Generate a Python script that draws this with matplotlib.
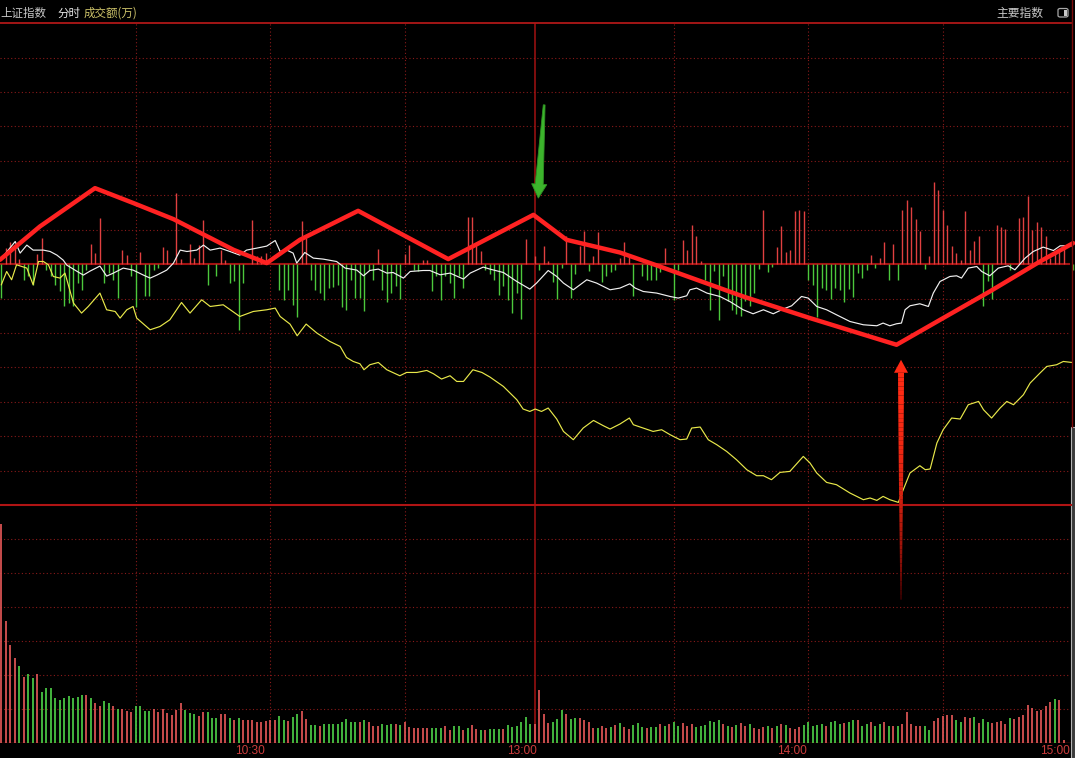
import matplotlib
matplotlib.use("Agg")
import matplotlib.pyplot as plt
from matplotlib.patches import Polygon, Rectangle, FancyBboxPatch
from matplotlib.transforms import IdentityTransform
import numpy as np

plt.rcParams['font.family'] = ['Noto Sans CJK SC', 'DejaVu Sans']

# ------------------------------------------------------------------ data
# minute index (0 = 09:30, 120 = 13:00, 240 = 15:00); values in display units
# (one grid step of the price panel = 34.4 units, zero line = previous close)
white_t = [0.1, 3.1, 4.2, 5.7, 7.1, 9.4, 10.9, 12.4, 13.8, 14.6, 16.8, 18.3, 19.8, 22.0, 23.5, 25.0,
           27.2, 29.4, 31.7, 33.2, 34.7, 36.9, 38.4, 39.9, 41.4, 43.6, 45.1, 46.6, 48.8, 51.0, 53.2,
           54.7, 57.0, 59.2, 61.1, 62.2, 63.7, 65.1, 65.9, 67.7, 69.6, 71.8, 74.8, 76.7, 79.3, 80.8,
           82.2, 84.1, 86.0, 87.4, 89.7, 91.2, 94.1, 95.6, 97.9, 100.1, 103.1, 104.6, 107.5, 109.0,
           112.0, 115.0, 117.9, 119.4, 122.0, 123.9, 125.4, 127.6, 130.6, 132.8, 135.8, 138.0, 140.2,
           141.4, 143.2, 146.2, 149.2, 151.0, 152.9, 153.6, 155.1, 157.4, 160.3, 162.5, 165.5, 167.7,
           170.0, 172.2, 174.4, 176.3, 178.5, 180.0, 181.9, 184.1, 186.3, 189.3, 192.3, 195.3, 196.7,
           198.2, 199.7, 200.8, 201.6, 202.7, 204.9, 206.8, 207.9, 209.4, 211.6, 213.1, 214.2, 215.7,
           217.6, 218.7, 220.5, 222.4, 224.6, 226.1, 228.4, 230.2, 232.4, 234.7, 236.2, 238.8]
white_v = [6, 22.6, 11, 19, 14, 14, 12.6, 9, 4, -1, -7, -11, -7, -2, -12, -9,
           -4, -6, -11, -14, -11, -6, 1, 14, 12.6, 14, 19, 14, 16, 12.6, 9,
           14, 16, 18, 23.6, 12.6, 14, 11, 1, 11.6, 6, 5, 2.6, -4, -6, -11.7,
           -6.4, -5, -9, -8.4, -14, -7.4, -6.4, -6.4, -10.7, -9, -15, -9, -3, -5,
           -8.4, -17.4, -25, -19, -6.4, -12.4, -19, -25.7, -15.7, -19, -25.7, -24, -19.7,
           -24, -27.4, -29, -32.4, -34, -31.7, -25.7, -24, -29, -32.4, -37.4, -45.7, -49.7,
           -45.7, -49.7, -45, -41.7, -32.4, -34, -42.4, -45.7, -50.7, -57.4, -60.7, -61.7, -59,
           -61.7, -59.7, -59, -45.7, -41.7, -39.7, -42.4, -29, -17.4, -12.4, -11.7, -14, -4,
           -2.4, -7.4, -11.7, -4, -1.7, -5.7, 6, 12.6, 17, 13.6, 18.3, 18.3]

yellow_t = [0, 1.2, 2.3, 3.4, 4.6, 5.7, 7.1, 8.3, 9.4, 10.5, 11.6, 13.1, 14.2, 16.1, 17.9, 19.4,
            22.0, 23.5, 25.4, 26.5, 28.0, 29.4, 30.2, 33.2, 35.4, 37.6, 40.2, 42.1, 44.7, 46.6, 49.5,
            53.2, 56.2, 59.2, 61.1, 62.2, 64.4, 66.0, 68.0, 70.4, 73.3, 75.6, 77.0, 78.5, 80.0, 80.9,
            82.2, 84.1, 86.0, 88.9, 90.4, 92.7, 94.9, 96.4, 98.2, 100.1, 101.6, 103.1, 105.2, 107.2,
            109.0, 112.0, 115.0, 116.4, 117.9, 119.1, 120.5, 122.0, 123.9, 125.4, 127.6, 129.8, 132.1,
            134.3, 135.8, 138.0, 140.1, 141.0, 143.2, 145.4, 147.3, 149.2, 151.4, 152.9, 154.0, 155.9,
            157.7, 159.6, 161.8, 164.0, 166.3, 168.5, 170.0, 171.8, 173.7, 175.9, 178.9, 180.4, 181.9,
            184.1, 186.3, 189.3, 190.8, 192.3, 193.8, 195.3, 196.7, 198.2, 200.1, 201.2, 202.7, 204.9,
            206.1, 207.2, 208.7, 210.1, 212.0, 213.9, 215.7, 218.0, 219.1, 220.9, 222.8, 224.3, 225.8,
            228.0, 229.5, 231.7, 233.2, 235.4, 236.9, 238.8]
yellow_v = [-20.7, -7.4, -15.7, -0.7, -2.4, -4, -20.7, 2.6, 2.6, -0.7, -12.4, -14, -9, -39, -49, -42.4,
            -29, -45.7, -47.4, -54, -45.7, -42.4, -54, -65.7, -62.4, -55.7, -38.4, -49, -35.7, -42.4, -40.7,
            -52.4, -47.4, -45.7, -44, -52.4, -60, -71.7, -60, -69, -77.4, -82.4, -93.4, -97.4, -99.7, -105.7,
            -100.7, -98.4, -105.7, -111.7, -108.4, -108.4, -106.4, -109.7, -115, -111.7, -117.4, -117.4, -105.7, -108.4,
            -113, -122.4, -135.7, -145, -147.4, -145, -147.4, -144, -155, -167.4, -175.7, -164, -156.4,
            -161.7, -165, -160, -154, -160.7, -164, -167.4, -165.7, -170.7, -175.7, -175, -164, -163,
            -175.7, -180.7, -187.4, -195.7, -205.7, -211.7, -211.7, -215.7, -208.4, -207.4, -192.4, -199, -209,
            -218.4, -220.7, -229, -232.4, -235.7, -234, -236.4, -232.4, -235.7, -238.4, -225.7, -209, -201.7,
            -205.7, -205, -179, -165.7, -154, -155, -140.7, -137.4, -145.7, -154, -144, -137.4, -140.7,
            -130.7, -119, -109, -102.4, -100.7, -97.4, -98.4]

# red (+) / green (-) bars around the zero line of the price panel
flow_t = [0, 1, 2, 3, 4, 5, 6, 7, 8, 9, 10, 11, 12, 13, 14, 15, 16, 17, 18, 19, 20, 21, 22, 23, 24,
          25, 26, 27, 28, 29, 30, 31, 32, 33, 34, 35, 36, 37, 39, 40, 42, 43, 44, 45, 46, 48, 49, 50,
          51, 52, 53, 54, 56, 57, 58, 59, 62, 63, 64, 65, 66, 67, 68, 69, 70, 71, 72, 73, 74, 75, 76,
          77, 78, 79, 80, 81, 82, 83, 84, 85, 86, 87, 88, 89, 90, 91, 92, 93, 94, 95, 96, 97, 98, 99,
          100, 101, 102, 103, 104, 105, 106, 107, 108, 109, 110, 111, 112, 113, 114, 115, 116, 117,
          119, 120, 121, 122, 123, 124, 125, 126, 127, 128, 129, 130, 131, 132, 133, 134, 135, 136,
          137, 138, 139, 140, 141, 143, 144, 145, 146, 147, 148, 150, 151, 152, 153, 154, 155, 156,
          157, 158, 159, 160, 161, 162, 163, 164, 165, 166, 167, 168, 169, 170, 171, 172, 173, 174,
          175, 176, 177, 178, 179, 180, 181, 182, 183, 184, 185, 186, 187, 188, 189, 190, 191, 192,
          193, 194, 195, 196, 197, 198, 199, 200, 201, 202, 203, 204, 205, 206, 207, 208, 209, 210,
          211, 212, 213, 214, 215, 216, 217, 218, 219, 220, 221, 222, 223, 224, 225, 227, 228, 229,
          230, 231, 232, 233, 234, 235, 236, 237, 239]
flow_v = [-34, 16, 21.7, 17.7, 5, -15.7, -12.3, -20.7, 10.3, 26, -5.7, -12.3, -20.7, -27.3, -42.3, -39,
          -42.3, -19, -25.7, -5.7, 20.3, 11, 46, -19, -9, -15.7, -34, 13.7, 9.3, -12.3, -43.3, 11.7,
          -32.3, -32.3, -5.7, -4, 17, 14.3, 71, 5, 20.3, 6, 19.3, 43.7, -20.7, -12.3, 14.3, 4.3, -19,
          -17.3, -66.3, -19, 43.7, 7.7, 8.3, 11, -25.7, -35.7, -25.7, -40.7, -53, 42.7, 26, -15.7,
          -25.7, -29, -36.3, -24, -23, -20.7, -43.3, -46.3, -15.7, -34, -34, -47.3, -5.7, -15.7, 15,
          -25.7, -38.3, -29, -21.7, -35, 10.3, 19.3, -5.7, -7.3, 4.3, 4.3, -27.3, -12.3, -36.3, -11.7,
          -19, -34, -12.3, -24, 47, 47, 21, 12.7, -5.7, -9.7, -15.7, -30.7, -22.3, -35.7, -49, -29,
          -55, 25, 8.3, -5.7, 18.3, 2.7, -18.3, -35, -4, 28.3, -34, -9.7, 17.7, 32.7, -7.3, 8.3, 31.7,
          -18.3, -12.3, -8.3, -5.7, 6, 21.7, 7, -32.3, -11.7, -16.3, -15.7, -15.7, -8.3, 16, -35.7,
          -5.7, 24.3, 14.3, 39.3, 27.7, 2.7, -15.7, -46.3, -7.3, -56.3, -11.7, -37.3, -45.7, -49.7,
          -52.3, -37.3, -41.7, -29, -5, 53.7, -8.3, -3, 17, 38.3, 11.7, 14.3, 52.7, 54.3, 52.7, -15.7,
          -20.7, -53, -24, -26.3, -35, -24, -26.3, -38.3, -25, -33, -9, -14, -5.7, 9.3, -4, 6, 21.7,
          -15.7, 20.3, -15.7, 53.7, 64.3, 56.7, 45, 32.7, -4.7, 8.3, 81.7, 73.7, 53.7, 39.3, 18.3, 11,
          4.3, 52.7, 13.7, 22.7, 27.7, -41.7, -17.3, -35, 39.3, 37, 35, -5.7, 46, 47, 68.3, 33.7, 41.7,
          37, 28.3, 6, 11, 14.3, 19.3, -5.7]

# turnover per minute (成交额), one grid step = 34 units; colour r = up, g = down
volume = [219, 122, 98, 85, 77, 66, 69, 65, 69, 51,
          55, 55, 45, 43, 45, 47, 45, 46, 48, 48,
          45, 40, 37, 42, 40, 37, 34, 34, 32, 31,
          37, 37, 32, 32, 34, 31, 34, 30, 28, 33,
          40, 33, 30, 29, 27, 31, 31, 25, 25, 29,
          29, 25, 23, 25, 23, 23, 23, 21, 21, 22,
          23, 23, 27, 23, 22, 26, 29, 32, 24, 18,
          18, 17, 19, 19, 19, 19, 21, 24, 21, 21,
          21, 23, 21, 17, 17, 19, 18, 19, 19, 18,
          21, 16, 15, 15, 15, 15, 15, 15, 15, 17,
          13, 17, 17, 13, 15, 18, 14, 13, 13, 14,
          14, 14, 14, 18, 16, 17, 21, 26, 19, 19,
          53, 29, 20, 21, 24, 33, 29, 24, 25, 25,
          23, 21, 15, 15, 17, 15, 16, 18, 20, 16,
          14, 18, 20, 16, 15, 16, 16, 19, 17, 19,
          21, 17, 20, 17, 19, 16, 17, 18, 22, 21,
          23, 19, 17, 16, 18, 20, 17, 19, 15, 14,
          16, 17, 15, 17, 19, 18, 15, 14, 16, 18,
          21, 17, 18, 19, 17, 21, 22, 19, 20, 21,
          23, 23, 17, 19, 21, 17, 19, 21, 17, 17,
          17, 19, 31, 19, 17, 17, 17, 13, 22, 25,
          27, 28, 28, 23, 21, 26, 25, 26, 20, 24,
          21, 20, 21, 22, 19, 25, 24, 26, 28, 38,
          35, 32, 33, 37, 41, 44, 43, 3]
volume_dir = ("rrrrgrggrg" "gggggggggr" "grrggrgrrr" "ggggrrrrrr" "rgggrrgggr"
              "rgrgrrrrrr" "rrggrggrrg" "grgggggggg" "rgrrrgggrg" "rrrrrrgggr"
              "rggrgrrgrg" "ggrggggggr" "rrrgggrggr" "rrrgrrgrgr" "rgggrggrgr"
              "ggrrrggggg" "grgrgrrgrr" "rgrgrgrrrg" "ggggrgggrg" "grggrggrgr"
              "grrrrrggrr" "rrrggrrgrg" "grrrrgrrrr" "rrrrrgrr")

# hand-drawn annotation (thick red zigzag) and arrows, in data units
trend_t = [-0.3, 8.6, 20.9, 29.5, 38.4, 51.8, 59.2, 66.6, 79.6, 99.7, 118.7, 126.1, 138.0, 146.9,
           165.5, 180.4, 199.7, 210.1, 220.5, 231.7, 239.1]
trend_v = [4.3, 37.6, 76, 61, 45, 14.3, 1, 24.3, 53.3, 5, 49.3, 24.3, 11.6, -2.4,
           -32.4, -54, -80.7, -54, -27.4, 2.6, 21.0]
green_arrow = [(121.1, 159.3), (119.8, 66.0)]   # tail, tip
red_arrow = [(200.7, -335.7), (200.7, -95.7)]    # tail, tip

time_labels = ['10:30', '13:00', '14:00', '15:00']
time_label_pos = [55.4, 116.2, 176.4, 235.1]

# ------------------------------------------------------------------ layout
W, H = 1075, 758
fig = plt.figure(figsize=(W / 100, H / 100), dpi=100, facecolor='black')


def fy(py):
    return 1 - py / H


XMIN, XMAX = -0.29, 239.51
STEP = 34.43
GRID_END = 238.2

ax = fig.add_axes([0, fy(505), 1, fy(23.2) - fy(505)])
axv = fig.add_axes([0, fy(743), 1, fy(505) - fy(743)])
for a in (ax, axv):
    a.set_facecolor('black')
    a.set_xlim(XMIN, XMAX)
    for s in a.spines.values():
        s.set_visible(False)
    a.set_xticks([])
    a.set_yticks([])
ax.set_ylim(-7 * STEP, 7 * STEP)
axv.set_ylim(0, 238)

GRID_C = '#8a1a1a'
SOLID_C = '#a31212'
dot = (0, (1, 2.2))

# price panel grid
for k in list(range(-6, 0)) + list(range(1, 7)):
    ax.plot([XMIN, GRID_END], [k * STEP, k * STEP], color=GRID_C, lw=0.8, ls=dot, zorder=1)
ax.plot([XMIN, GRID_END], [0, 0], color=SOLID_C, lw=1.5, zorder=1)
for t in [30, 60, 90, 150, 180, 210]:
    ax.plot([t, t], [-7 * STEP, 7 * STEP], color=GRID_C, lw=0.8, ls=dot, zorder=1)
    axv.plot([t, t], [0, 238], color=GRID_C, lw=0.8, ls=dot, zorder=1)
ax.plot([119.05, 119.05], [-7 * STEP, 7 * STEP], color=SOLID_C, lw=1.1, zorder=1)
axv.plot([119.05, 119.05], [0, 238], color=SOLID_C, lw=1.1, zorder=1)

# volume panel grid
for k in range(1, 7):
    axv.plot([XMIN, GRID_END], [k * 34, k * 34], color=GRID_C, lw=0.8, ls=dot, zorder=1)
axv.plot([XMIN, 239.0], [0, 0], color=SOLID_C, lw=1.0, zorder=1)

# red / green bars in the price panel
flow_t_a = np.array(flow_t)
flow_v_a = np.array(flow_v)
up = flow_v_a > 0
ax.vlines(flow_t_a[up], 0, flow_v_a[up], color='#e04040', lw=1.0, zorder=2)
ax.vlines(flow_t_a[~up], flow_v_a[~up], 0, color='#4cc83c', lw=1.0, zorder=2)

# index lines
ax.plot(yellow_t, yellow_v, color='#e8e84a', lw=0.85, zorder=3)
ax.plot(white_t, white_v, color='#f0f0f0', lw=0.85, zorder=3)

# hand-drawn trend
ax.plot(trend_t, trend_v, color='#ff2222', lw=3.2, solid_joinstyle='round',
        solid_capstyle='round', zorder=5, clip_on=False)

# volume bars
vx = np.arange(len(volume))
vcol = ['#e05656' if c == 'r' else '#4ccc46' for c in volume_dir]
axv.vlines(vx, 0, volume, colors=vcol, lw=1.25, zorder=2)

# separators
fig.add_artist(plt.Line2D([0, 1071 / W], [fy(505), fy(505)], color='#b01414', lw=1.5))
fig.add_artist(plt.Line2D([0, 1071 / W], [fy(22.7), fy(22.7)], color='#b01818', lw=1.3))
fig.add_artist(plt.Line2D([1071.5 / W, 1071.5 / W], [fy(0), fy(427)], color='#7a0c0c', lw=1.0))
fig.add_artist(Rectangle((1070.5 / W, 0), 4.5 / W, fy(427), transform=fig.transFigure,
                         facecolor='#3a3a3a', edgecolor='#b4b4b4', lw=0.8))

# arrows (drawn in display pixels from data anchors)
fig.canvas.draw()


def arrow_frame(tail, tip, head_len):
    T = ax.transData.transform(tail)
    P = ax.transData.transform(tip)
    d = P - T
    u = d / np.hypot(*d)
    n = np.array([-u[1], u[0]])
    B = P - u * head_len
    return T, P, B, n


def add_green_arrow():
    T, P, B, n = arrow_frame(green_arrow[0], green_arrow[1], 14)
    pts = [T + n * 0.9, B + n * 4.0, B + n * 7.6, P, B - n * 7.6, B - n * 4.0, T - n * 0.9]
    fig.add_artist(Polygon(pts, closed=True, transform=IdentityTransform(),
                           facecolor='#3cb42c', edgecolor='#2e9022', lw=0.6, zorder=10))


def add_red_arrow():
    T, P, B, n = arrow_frame(red_arrow[0], red_arrow[1], 13)
    head = [B + n * 7.0, P, B - n * 7.0]
    fig.add_artist(Polygon(head, closed=True, transform=IdentityTransform(),
                           facecolor='#ff2a14', edgecolor='none', zorder=10))
    nseg = 50
    c0 = np.array([1.0, 0.17, 0.08])
    c1 = np.array([0.30, 0.0, 0.0])
    for k in range(nseg):
        f0, f1 = k / nseg, (k + 1) / nseg
        p0 = B + (T - B) * f0
        p1 = B + (T - B) * f1
        w0 = 3.0 - 2.4 * f0 ** 1.3
        w1 = 3.0 - 2.4 * f1 ** 1.3
        fmid = (f0 + f1) / 2
        mix = fmid ** 2.2
        col = c0 * (1 - mix) + c1 * mix
        poly = [p0 + n * w0, p1 + n * w1, p1 - n * w1, p0 - n * w0]
        fig.add_artist(Polygon(poly, closed=True, transform=IdentityTransform(),
                               facecolor=tuple(col), edgecolor='none', zorder=10))


add_green_arrow()
add_red_arrow()

# header texts
hy = fy(13.5)
fig.text(0 / W, hy, '上证指数', color='#c8c8c8', fontsize=8.3, va='center', ha='left')
fig.text(57 / W, hy, '分时', color='#e6e6e6', fontsize=8.3, va='center', ha='left')
fig.text(84 / W, hy, '成交额(万)', color='#cfc46a', fontsize=8.3, va='center', ha='left')
fig.text(1043 / W, hy, '主要指数', color='#c8c8c8', fontsize=8.5, va='center', ha='right')
fig.add_artist(FancyBboxPatch((1058 / W, fy(17)), 10 / W, 8.5 / H, transform=fig.transFigure,
                              boxstyle='round,pad=0,rounding_size=0.002',
                              facecolor='black', edgecolor='#a8a8a8', lw=0.9))
fig.add_artist(Rectangle((1063.5 / W, fy(15.5)), 3.2 / W, 5.5 / H, transform=fig.transFigure,
                         facecolor='#c8c8c8', edgecolor='none'))

# time axis labels
for lab, pos in zip(time_labels, time_label_pos):
    disp = ax.transData.transform((pos, 0))
    fig.text(disp[0] / W, fy(751.5), lab, color='#cc3c3c', fontsize=8.6,
             family=['Liberation Sans', 'DejaVu Sans'], va='center', ha='center')

fig.savefig('out.png', dpi=100, facecolor='black')
